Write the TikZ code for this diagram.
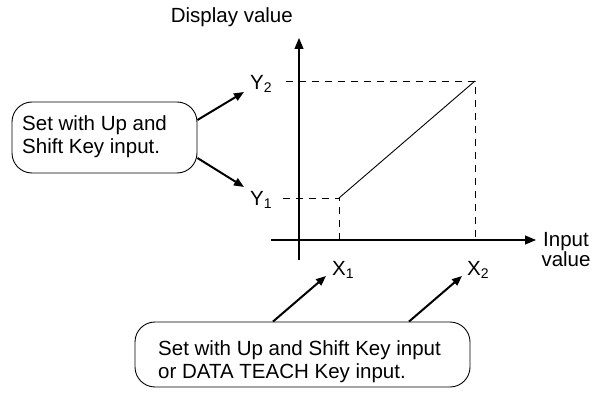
\documentclass[tikz,border=0pt]{standalone}
\usepackage{fontspec}
\setmainfont{Liberation Sans}
\usetikzlibrary{arrows.meta}
\newcommand\mysub[1]{\raisebox{-3pt}{\fontsize{14}{14}\selectfont #1}}
\begin{document}
\begin{tikzpicture}[x=1pt,y=-1pt,
  lbl/.style={inner sep=0pt,font=\fontsize{20.5}{23}\selectfont},
  callout/.style={draw,line width=0.9pt,rounded corners=20pt,inner sep=0pt},
  axis/.style={line width=1.2pt,-{Triangle[length=11pt,width=9pt]}},
  guide/.style={line width=0.9pt,dash pattern=on 7pt off 6pt},
  pointer/.style={line width=2pt,-{Triangle[length=10pt,width=8pt]}}]
\useasboundingbox (0,0) rectangle (597,393);
% axes
\coordinate (yb) at (299,260);
\coordinate (yt) at (299,38);
\coordinate (xl) at (271,240);
\coordinate (xr) at (536,240);
\draw[axis] (yb) -- (yt);
\draw[axis] (xl) -- (xr);
% characteristic points
\coordinate (p1) at (339,198);
\coordinate (p2) at (475,81);
\coordinate (y1s) at (283,198);
\coordinate (y2s) at (286,81);
\coordinate (x1b) at (339,240);
\coordinate (x2b) at (475,240);
\draw[guide] (y2s) -- (p2) -- (x2b);
\draw[guide] (y1s) -- (p1) -- (x1b);
\draw[line width=0.9pt] (p1) -- (p2);
% axis labels
\node[lbl,anchor=base east] (dv) at (293,23) {Display value};
\node[lbl,anchor=north,align=center,font=\fontsize{20.5}{20}\selectfont] (iv) at (566,232.5) {Input\\value};
\node[lbl,anchor=base west] (ly2) at (250,90) {Y\mysub{2}};
\node[lbl,anchor=base west] (ly1) at (250,205) {Y\mysub{1}};
\node[lbl,anchor=base west] (lx1) at (332,275) {X\mysub{1}};
\node[lbl,anchor=base west] (lx2) at (467,275) {X\mysub{2}};
% left callout
\node[callout,minimum width=185pt,minimum height=71pt] (lbox) at (104.5,137.5) {};
\node[lbl,anchor=north west,align=left] (ltext) at (22,115.2) {Set with Up and\\Shift Key input.};
\coordinate (ty2) at (244,92);
\coordinate (ty1) at (244,187);
\draw[pointer] ([yshift=17.5pt]lbox.east) -- (ty2);
\draw[pointer] ([yshift=-20.5pt]lbox.east) -- (ty1);
% bottom callout
\node[callout,minimum width=335pt,minimum height=65pt] (bbox) at (302.5,354.5) {};
\node[lbl,anchor=north west,align=left] (btext) at (158,340.2) {Set with Up and Shift Key input\\or DATA TEACH Key input.};
\coordinate (tx1) at (326,276);
\coordinate (tx2) at (462,276);
\draw[pointer] ([xshift=-29.5pt]bbox.north) -- (tx1);
\draw[pointer] ([xshift=106.5pt]bbox.north) -- (tx2);
\end{tikzpicture}
\end{document}
